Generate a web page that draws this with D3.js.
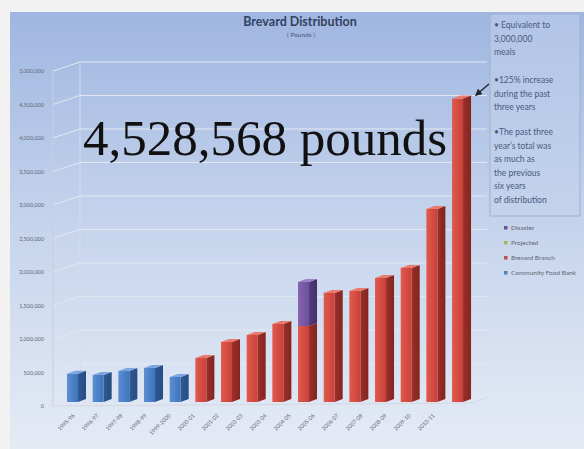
<!DOCTYPE html>
<html>
<head>
<meta charset="utf-8">
<script src="https://cdn.jsdelivr.net/npm/d3@7"></script>
<style>
  html, body { margin: 0; padding: 0; background: #f2f2f2; }
  svg { display: block; }
</style>
</head>
<body>
<svg id="chart" width="584" height="449"></svg>
<script>
// ---------- data ----------
const categories = ["1995-96","1996-97","1997-98","1998-99","1999-2000","2000-01","2001-02","2002-03",
                    "2003-04","2004-05","2005-06","2006-07","2007-08","2008-09","2009-10","2010-11"];
const communityFoodBank = [422000, 403000, 463000, 507000, 373000, 0, 0, 0, 0, 0, 0, 0, 0, 0, 0, 0];
const brevardBranch     = [0, 0, 0, 0, 0, 657000, 896000, 1000000, 1164000, 1134000, 1627000, 1657000, 1851000, 2000000, 2881000, 4528568];
const disaster          = [0, 0, 0, 0, 0, 0, 0, 0, 0, 657000, 0, 0, 0, 0, 0, 0];
const projected         = [0, 0, 0, 0, 0, 0, 0, 0, 0, 0, 0, 0, 0, 0, 0, 0];
const yTickValues = [0, 500000, 1000000, 1500000, 2000000, 2500000, 3000000, 3500000, 4000000, 4500000, 5000000];
const legendLabels = ["Disaster", "Projected", "Brevard Branch", "Community Food Bank"];
const noteLines = [
  ["\u2022 Equivalent to", "3,000,000", "meals"],
  ["\u2022125% increase", "during the past", " three years"],
  ["\u2022The past three", "year\u2019s total was", "as much as", "the previous", "six years", "of distribution"]
];
const titleText = "Brevard Distribution";
const subtitleText = "( Pounds )";
const calloutText = "4,528,568 pounds";

// ---------- setup ----------
const svg = d3.select("#chart");
const defs = svg.append("defs");

const bg = defs.append("linearGradient").attr("id","bg").attr("x1",0).attr("y1",0).attr("x2",0).attr("y2",1);
bg.append("stop").attr("offset","0%").attr("stop-color","#9fb6e1");
bg.append("stop").attr("offset","45%").attr("stop-color","#c3d2ec");
bg.append("stop").attr("offset","100%").attr("stop-color","#e5ebf5");

function faceGrad(id, c1, c2) {
  const g = defs.append("linearGradient").attr("id", id).attr("x1",0).attr("y1",0).attr("x2",1).attr("y2",0);
  g.append("stop").attr("offset","0%").attr("stop-color", c1);
  g.append("stop").attr("offset","100%").attr("stop-color", c2);
}
const palette = {
  cfb:  {front:["#5a8fd4","#3f74bb"], side:["#2f5a96","#274c80"], top:"#7aa6e0"},
  bb:   {front:["#e05a4c","#c9403a"], side:["#9a2f28","#822620"], top:"#ea7a6c"},
  dis:  {front:["#8464b0","#6e4f9c"], side:["#523a7a","#45306a"], top:"#9c80c4"},
  proj: {front:["#a9c868","#8fb052"], side:["#6c8a38","#5c782e"], top:"#c0da88"}
};
Object.entries(palette).forEach(([k,p]) => {
  faceGrad(k+"F", p.front[0], p.front[1]);
  faceGrad(k+"S", p.side[0], p.side[1]);
});

// slide background
svg.append("rect").attr("x",10).attr("y",12).attr("width",574).attr("height",437).attr("fill","url(#bg)");

// ---------- scales ----------
const y = d3.scaleLinear().domain([0, 5000000]).range([402, 67]);
const x = d3.scaleBand().domain(categories).range([64, 64 + 16 * 25.67]).padding(0);
const xLab = d3.scalePoint().domain(categories).range([75, 435]);

const wallDx = 27, wallDy = 5, axisDy = 4;
const axisX = 53, wallRight = 487;

// ---------- walls / gridlines ----------
const grid = svg.append("g");
yTickValues.forEach(v => {
  const ya = y(v) + axisDy, yw = y(v) - wallDy;
  grid.append("line").attr("x1", axisX).attr("y1", ya).attr("x2", axisX + wallDx).attr("y2", yw)
    .attr("stroke", "#e3e8f0").attr("stroke-width", 1);
  grid.append("line").attr("x1", axisX + wallDx).attr("y1", yw).attr("x2", wallRight).attr("y2", yw)
    .attr("stroke", "#e3e8f0").attr("stroke-width", 1);
});
// axis line & floor
grid.append("line").attr("x1", axisX).attr("y1", y(5000000) + axisDy).attr("x2", axisX).attr("y2", y(0) + axisDy)
  .attr("stroke", "#c9ced8");
grid.append("line").attr("x1", axisX + wallDx).attr("y1", y(5000000) - wallDy).attr("x2", axisX + wallDx).attr("y2", y(0) - wallDy)
  .attr("stroke", "#d6dce6");
grid.append("path")
  .attr("d", `M${axisX},${y(0)+axisDy} L${wallRight-14},${y(0)+1} L${wallRight},${y(0)-wallDy}`)
  .attr("fill", "none").attr("stroke", "#d3d8e1");

// y axis labels
const yAxis = d3.axisLeft(y).tickValues(yTickValues).tickFormat(d3.format(",")).tickSize(0).tickPadding(0);
const yg = svg.append("g").attr("transform", `translate(44, ${axisDy})`).call(yAxis);
yg.select(".domain").remove();
yg.selectAll("text").attr("font-family", "Lato, sans-serif").attr("font-size", 5.5).attr("fill", "#5f6672");

// ---------- bars ----------
const frontW = 11, sideW = 8, depth = 3;
function drawSeg(g, cat, v0, v1, key) {
  if (v1 <= v0) return;
  const bx = x(cat) + 3, yt = y(v1), yb = y(v0);
  g.append("path")
    .attr("d", `M${bx+frontW},${yt} L${bx+frontW+sideW},${yt-depth} L${bx+frontW+sideW},${yb-depth} L${bx+frontW},${yb} Z`)
    .attr("fill", `url(#${key}S)`);
  g.append("rect").attr("x", bx).attr("y", yt).attr("width", frontW).attr("height", yb - yt)
    .attr("fill", `url(#${key}F)`);
}
function drawTop(g, cat, v, key) {
  const bx = x(cat) + 3, yt = y(v);
  g.append("path")
    .attr("d", `M${bx},${yt} L${bx+frontW},${yt} L${bx+frontW+sideW},${yt-depth} L${bx+sideW},${yt-depth} Z`)
    .attr("fill", palette[key].top);
}
const bars = svg.append("g");
categories.forEach((c, i) => {
  const g = bars.append("g");
  let base = 0, topKey = null;
  [[communityFoodBank[i], "cfb"], [brevardBranch[i], "bb"], [projected[i], "proj"], [disaster[i], "dis"]]
    .forEach(([val, key]) => {
      if (val > 0) { drawSeg(g, c, base, base + val, key); base += val; topKey = key; }
    });
  if (topKey) drawTop(g, c, base, topKey);
});

// x labels
const xl = svg.append("g");
categories.forEach(c => {
  xl.append("text")
    .attr("transform", `translate(${xLab(c)}, 416) rotate(-45)`)
    .attr("text-anchor", "end")
    .attr("font-family", "Lato, sans-serif").attr("font-size", 5.5).attr("fill", "#5f6672")
    .text(c);
});

// ---------- titles ----------
svg.append("text").attr("x", 300).attr("y", 26).attr("text-anchor", "middle")
  .attr("font-family", "Lato, sans-serif").attr("font-weight", "bold").attr("font-size", 12.5)
  .attr("fill", "#33425f").text(titleText);
svg.append("text").attr("x", 301).attr("y", 37).attr("text-anchor", "middle")
  .attr("font-family", "Lato, sans-serif").attr("font-size", 6.5)
  .attr("fill", "#4a5878").text(subtitleText);

// callout
svg.append("text").attr("x", 83).attr("y", 155)
  .attr("font-family", "'Liberation Serif', 'DejaVu Serif', serif").attr("font-size", 51)
  .attr("fill", "#111").text(calloutText);

// arrow
defs.append("marker").attr("id", "ah").attr("viewBox", "0 0 10 10").attr("refX", 8).attr("refY", 5)
  .attr("markerWidth", 5).attr("markerHeight", 5).attr("orient", "auto")
  .append("path").attr("d", "M0,0 L10,5 L0,10 Z").attr("fill", "#1e2430");
svg.append("line").attr("x1", 489).attr("y1", 84).attr("x2", 476).attr("y2", 95)
  .attr("stroke", "#1e2430").attr("stroke-width", 1.4).attr("marker-end", "url(#ah)");

// note box
svg.append("rect").attr("x", 490).attr("y", 14).attr("width", 90).attr("height", 202)
  .attr("fill", "#c4d3ec").attr("fill-opacity", 0.5).attr("stroke", "#9fb0cf").attr("stroke-width", 1);
const noteStarts = [25, 80, 132];
noteLines.forEach((grp, gi) => {
  grp.forEach((line, li) => {
    svg.append("text").attr("x", 494).attr("y", noteStarts[gi] + li * 13.6 + 3)
      .attr("font-family", "Lato, sans-serif").attr("font-size", 8.5).attr("fill", "#4a5a7e")
      .text(line);
  });
});

// legend
const legColors = ["#6e4f9c", "#9bbb59", "#c0504d", "#4f81bd"];
legendLabels.forEach((l, i) => {
  const ly = 228 + i * 15;
  svg.append("rect").attr("x", 504).attr("y", ly - 2).attr("width", 3.5).attr("height", 3.5).attr("fill", legColors[i]);
  svg.append("text").attr("x", 511).attr("y", ly + 2)
    .attr("font-family", "Lato, sans-serif").attr("font-size", 6.5).attr("fill", "#5f6672").text(l);
});
</script>
</body>
</html>
